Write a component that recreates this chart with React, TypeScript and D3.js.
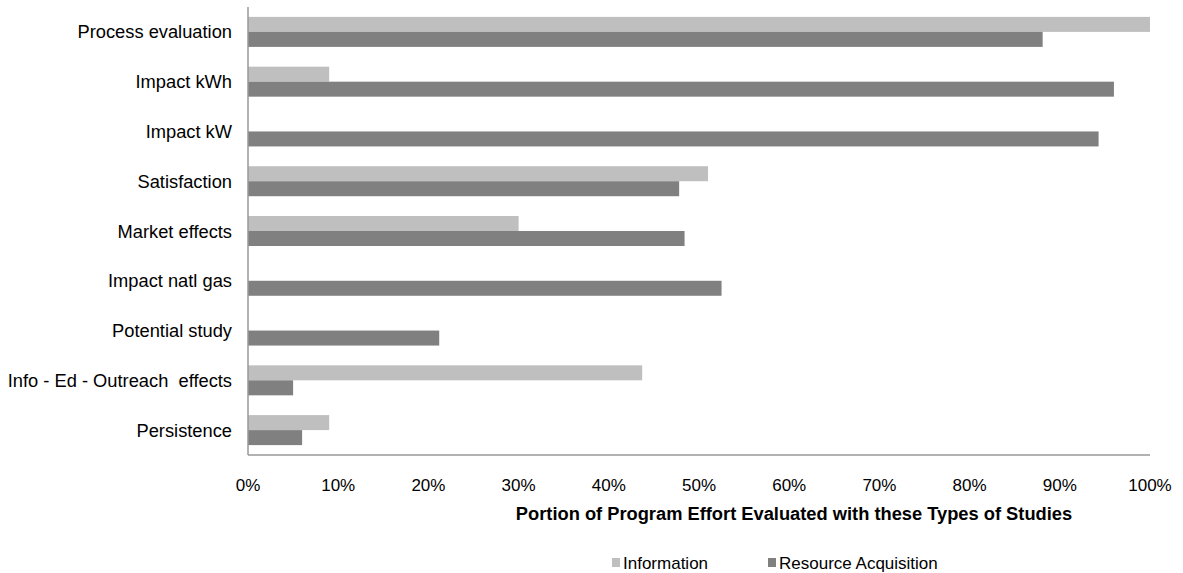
import React from 'react';
import * as d3 from 'd3';

const categories = [
  'Process evaluation',
  'Impact kWh',
  'Impact kW',
  'Satisfaction',
  'Market effects',
  'Impact natl gas',
  'Potential study',
  'Info - Ed - Outreach  effects',
  'Persistence',
];
const information = [1.0, 0.09, 0, 0.51, 0.3, 0, 0, 0.437, 0.09];
const resourceAcquisition = [0.881, 0.96, 0.943, 0.478, 0.484, 0.525, 0.212, 0.05, 0.06];
const tickValues = [0, 0.1, 0.2, 0.3, 0.4, 0.5, 0.6, 0.7, 0.8, 0.9, 1.0];
const seriesNames = ['Information', 'Resource Acquisition'];
const seriesColors = ['#bfbfbf', '#808080'];

const W = 1183;
const H = 573;
const left = 248;
const right = 1150;
const top = 7;
const bottom = 455;
const font = 'Liberation Sans, Arial, sans-serif';

export default function App() {
  const x = d3.scaleLinear().domain([0, 1]).range([left, right]);
  const y = d3.scaleBand<string>().domain(categories).range([top, bottom]);
  const inner = d3.scaleBand<number>().domain([0, 1]).range([0, 30]);
  const groupOff = (y.bandwidth() - 30) / 2;
  const series = [information, resourceAcquisition];
  const fmt = d3.format('.0%');

  return (
    <svg width={W} height={H} style={{ position: 'absolute', left: 0, top: 0, background: '#fff' }}
      fontFamily={font}>
      {/* bars */}
      {categories.map((c, i) => (
        <g key={c} transform={`translate(0,${(y(c) as number) + groupOff})`}>
          {series.map((s, k) => (s[i] > 0 ? (
            <rect key={k} x={x(0)} y={inner(k)} width={x(s[i]) - x(0)} height={inner.bandwidth()}
              fill={seriesColors[k]} />
          ) : null))}
        </g>
      ))}
      {/* axes */}
      <line x1={left} x2={left} y1={top} y2={bottom} stroke="#999" strokeWidth={1.5} />
      <line x1={left} x2={right} y1={bottom} y2={bottom} stroke="#999" strokeWidth={1.5} />
      {categories.map((c) => (
        <text key={c} x={232} y={(y(c) as number) + y.bandwidth() / 2 + 6.5} textAnchor="end"
          fontSize={18.3} fill="#000" style={{ whiteSpace: 'pre' }}>{c}</text>
      ))}
      {tickValues.map((t) => (
        <text key={t} x={x(t)} y={491} textAnchor="middle" fontSize={17} fill="#000">{fmt(t)}</text>
      ))}
      <text x={794} y={520} textAnchor="middle" fontSize={18.3} fontWeight="bold" fill="#000">
        Portion of Program Effort Evaluated with these Types of Studies
      </text>
      {/* legend */}
      {seriesNames.map((n, k) => {
        const lx = [612, 768][k];
        return (
          <g key={n}>
            <rect x={lx} y={558} width={8} height={9} fill={seriesColors[k]} />
            <text x={lx + 11} y={569} fontSize={17} fill="#000">{n}</text>
          </g>
        );
      })}
    </svg>
  );
}
